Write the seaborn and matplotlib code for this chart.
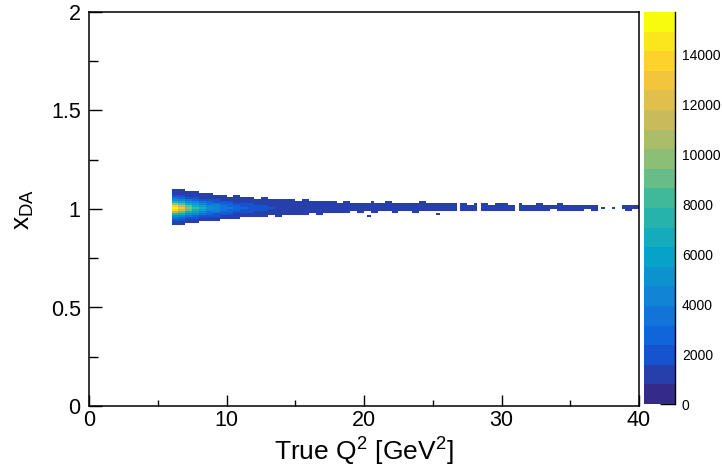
import numpy as np
import pandas as pd
import matplotlib
matplotlib.use("Agg")
import matplotlib.pyplot as plt
import seaborn as sns
from matplotlib.colors import LinearSegmentedColormap, ListedColormap
from matplotlib.ticker import MultipleLocator

# ---------------- data ----------------
q2_start = 6.0          # first filled Q^2 value
seg_width = 0.5         # Q^2 width of each listed segment
x_bin = 0.25            # histogram bin width in Q^2
y_bin = 0.01            # histogram bin width in x_DA
y_center = 1.005        # centre of the band's core bin

# number of y-bins filled above / below the core bin, per 0.5 GeV^2 segment (-1 = empty)
top_bins = [9, 9, 8, 8, 7, 7, 6, 6, 5, 6,
            5, 5, 4, 5, 4, 4, 4, 4, 3, 4,
            3, 3, 3, 3, 2, 3, 2, 2,
            2, 2, 2, 3, 2, 2, 2, 2, 3, 2,
            2, 2, 2, 2, 2, 1, 2, 2, 1, 2,
            2, 1, 2, 1, 1, 2, 1, 1, 2, 1,
            1, 1, 1, 1, 0, -1, 0, 1, 1, 1]
bottom_bins = [8, 8, 7, 7, 6, 6, 6, 5, 5, 5,
               4, 4, 4, 4, 3, 4, 3, 3, 3, 3,
               2, 3, 2, 2, 2, 2, 1, 2,
               1, 2, 1, 1, 2, 1, 1, 2, 1, 1,
               1, 1, 1, 1, 1, 1, 1, 1, 1, 1,
               1, 1, 1, 1, 1, 1, 1, 0, 1, 1,
               1, 1, 0, 1, 0, -1, 0, 0, 1, 0]
# entries in the core bin per segment
peak_counts = [15600, 13000, 10000, 8000, 6500, 5300, 4500, 3900, 3400, 3000,
               2600, 2300, 2000, 1800, 1600, 1500, 1450, 1400, 1350, 1300,
               1200, 1200, 1200, 1200, 1200, 1200, 1200, 1200,
               1100, 1100, 1100, 1100, 1100, 1100, 1100, 1100, 1100, 1100,
               1100, 1100, 1100, 1100, 1100, 1100, 1100, 1100, 1100, 1100,
               1000, 1000, 1000, 1000, 1000, 1000, 1000, 1000, 1000, 1000,
               1000, 1000, 1000, 1000, 1000, 1000, 1000, 1000, 1000, 1000]
# fraction of the core content vs. distance (in bins) from the core
y_profile = [1.0, 0.88, 0.7, 0.5, 0.35, 0.22, 0.13, 0.08, 0.06, 0.06]
floor_count = 900
# Q^2 bins (left edges) that are empty inside the band
empty_q2_bins = [26.75, 28.25, 31.0, 37.0, 38.25, 38.5]
# isolated entries off the band
outlier_q2 = [20.4, 20.6, 25.3]
outlier_xda = [0.965, 1.035, 0.975]
outlier_counts = [900, 900, 900]

x_ticks = [0, 10, 20, 30, 40]
y_ticks = [0, 0.5, 1, 1.5, 2]
y_tick_labels = ["0", "0.5", "1", "1.5", "2"]
z_ticks = [0, 2000, 4000, 6000, 8000, 10000, 12000, 14000]
z_max = 15720
n_levels = 20

# ROOT kBird palette stops
bird_r = [0.2082, 0.0592, 0.0780, 0.0232, 0.1802, 0.5301, 0.8186, 0.9956, 0.9764]
bird_g = [0.1664, 0.3599, 0.5041, 0.6419, 0.7178, 0.7492, 0.7328, 0.7862, 0.9832]
bird_b = [0.5293, 0.8684, 0.8385, 0.7914, 0.6425, 0.4662, 0.3499, 0.1968, 0.0539]

# ---------------- build the histogram table ----------------
xs, ys, ws = [], [], []
for k, (t, b, p) in enumerate(zip(top_bins, bottom_bins, peak_counts)):
    if t < 0:
        continue
    for h in range(int(round(seg_width / x_bin))):
        x0 = q2_start + k * seg_width + h * x_bin
        if any(abs(x0 - e) < 1e-6 for e in empty_q2_bins):
            continue
        for off in range(-b, t + 1):
            xs.append(x0 + x_bin / 2)
            ys.append(y_center + off * y_bin)
            ws.append(max(p * y_profile[abs(off)], floor_count))
xs += outlier_q2
ys += outlier_xda
ws += outlier_counts
df = pd.DataFrame({"q2": xs, "xda": ys, "w": ws})

x_edges = np.linspace(0, 40, int(round(40 / x_bin)) + 1)
y_edges = np.linspace(0, 2, int(round(2 / y_bin)) + 1)

base = LinearSegmentedColormap.from_list(
    "bird", list(zip(np.linspace(0, 1, len(bird_r)), zip(bird_r, bird_g, bird_b))))
cmap = ListedColormap([base(i / (n_levels - 1)) for i in range(n_levels)])

# ---------------- plot ----------------
sns.set_theme(style="white")
plt.rcParams["font.family"] = ["Liberation Sans", "DejaVu Sans"]
plt.rcParams["mathtext.fontset"] = "custom"
plt.rcParams["mathtext.rm"] = "Liberation Sans"
plt.rcParams["text.color"] = "black"
plt.rcParams["axes.labelcolor"] = "black"

W, H = 722, 469
fig = plt.figure(figsize=(W / 100, H / 100), dpi=100)
ax = fig.add_axes([89 / W, 1 - 406 / H, 550 / W, 394 / H])
cax = fig.add_axes([644 / W, 1 - 404 / H, 31 / W, 392 / H])

sns.histplot(data=df, x="q2", y="xda", weights="w", bins=(x_edges, y_edges),
             cmap=cmap, vmin=0, vmax=z_max, cbar=True, cbar_ax=cax, ax=ax)

ax.set_xlim(0, 40)
ax.set_ylim(0, 2)
ax.set_xticks(x_ticks)
ax.set_xticklabels([str(v) for v in x_ticks])
ax.set_yticks(y_ticks)
ax.set_yticklabels(y_tick_labels)
ax.xaxis.set_minor_locator(MultipleLocator(5))
ax.yaxis.set_minor_locator(MultipleLocator(0.25))
ax.tick_params(axis="both", which="both", direction="in", color="black",
               labelcolor="black", labelsize=15.5, width=1.0,
               bottom=True, left=True, top=False, right=False)
ax.tick_params(axis="x", which="major", length=8, pad=3)
ax.tick_params(axis="x", which="minor", length=4.5)
ax.tick_params(axis="y", which="major", length=9, pad=6)
ax.tick_params(axis="y", which="minor", length=6.5)
for s in ax.spines.values():
    s.set_visible(True)
    s.set_color("black")
    s.set_linewidth(1.1)

ax.set_xlabel(r"True Q$^{\mathregular{2}}$ [GeV$^{\mathregular{2}}$]", fontsize=19, color="black")
ax.set_ylabel(r"$\mathregular{x_{DA}}$", fontsize=19, color="black")
ax.xaxis.set_label_coords(0.5, -0.072)
ax.yaxis.set_label_coords(-0.097, 0.5)

cbar = ax.collections[0].colorbar
cbar.set_ticks(z_ticks)
cbar.set_ticklabels([str(v) for v in z_ticks])
cbar.outline.set_visible(False)
cax.minorticks_off()
cax.tick_params(axis="y", which="major", direction="in", length=11, width=1.0,
                color="black", labelcolor="black", labelsize=10, pad=5,
                left=False, right=True, labelleft=False, labelright=True)
cax.spines["right"].set_visible(True)
cax.spines["right"].set_color("black")
cax.spines["right"].set_linewidth(1.0)

fig.savefig("out.png", dpi=100)
